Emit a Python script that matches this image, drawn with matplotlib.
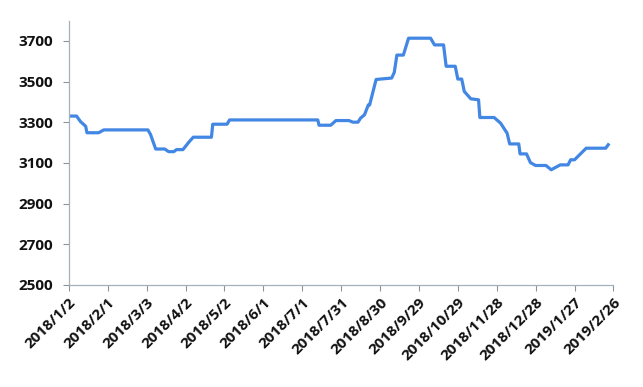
import numpy as np
import pandas as pd
import matplotlib
matplotlib.use('Agg')
import matplotlib.pyplot as plt

# Price series (turning points of the step-like line)
dates = ['2018-01-02', '2018-01-08', '2018-01-11', '2018-01-15', '2018-01-16', '2018-01-25',
         '2018-01-29', '2018-03-04', '2018-03-06', '2018-03-10', '2018-03-17', '2018-03-20',
         '2018-03-24', '2018-03-26', '2018-03-31', '2018-04-05', '2018-04-08', '2018-04-22',
         '2018-04-23', '2018-05-04', '2018-05-06', '2018-07-13', '2018-07-14', '2018-07-23',
         '2018-07-27', '2018-08-06', '2018-08-09', '2018-08-13', '2018-08-15', '2018-08-18',
         '2018-08-21', '2018-08-22', '2018-08-27', '2018-09-08', '2018-09-10', '2018-09-12',
         '2018-09-17', '2018-09-21', '2018-10-08', '2018-10-11', '2018-10-18', '2018-10-20',
         '2018-10-27', '2018-10-29', '2018-11-01', '2018-11-03', '2018-11-08', '2018-11-14',
         '2018-11-15', '2018-11-26', '2018-12-01', '2018-12-06', '2018-12-08', '2018-12-15',
         '2018-12-16', '2018-12-21', '2018-12-24', '2018-12-28', '2019-01-05', '2019-01-09',
         '2019-01-16', '2019-01-22', '2019-01-24', '2019-01-27', '2019-02-05', '2019-02-20',
         '2019-02-22']
values = [3330, 3330, 3303, 3280, 3248, 3248,
          3262, 3262, 3240, 3168, 3168, 3155,
          3155, 3165, 3165, 3205, 3226, 3226,
          3290, 3290, 3311, 3311, 3285, 3285,
          3308, 3308, 3300, 3300, 3320, 3336,
          3385, 3385, 3510, 3517, 3545, 3630,
          3630, 3713, 3713, 3680, 3680, 3575,
          3575, 3512, 3512, 3451, 3415, 3410,
          3323, 3323, 3295, 3246, 3193, 3193,
          3144, 3144, 3101, 3087, 3087, 3066,
          3090, 3090, 3115, 3115, 3172, 3172,
          3189]

tick_dates = ['2018-01-02', '2018-02-01', '2018-03-03', '2018-04-02', '2018-05-02',
              '2018-06-01', '2018-07-01', '2018-07-31', '2018-08-30', '2018-09-29',
              '2018-10-29', '2018-11-28', '2018-12-28', '2019-01-27', '2019-02-26']
tick_labels = ['2018/1/2', '2018/2/1', '2018/3/3', '2018/4/2', '2018/5/2',
               '2018/6/1', '2018/7/1', '2018/7/31', '2018/8/30', '2018/9/29',
               '2018/10/29', '2018/11/28', '2018/12/28', '2019/1/27', '2019/2/26']
y_ticks = [2500, 2700, 2900, 3100, 3300, 3500, 3700]

x = pd.to_datetime(dates)
xt = pd.to_datetime(tick_dates)

fig = plt.figure(figsize=(6.43, 3.87), dpi=100)
ax = fig.add_axes([0.107, 0.264, 0.847, 0.683])

ax.plot(x, values, color='#4287e3', linewidth=2.3, solid_joinstyle='round')

ax.set_xlim(xt[0], xt[-1])
ax.set_ylim(2500, 3800)
ax.set_yticks(y_ticks)
ax.set_xticks(xt)
ax.set_xticklabels(tick_labels, rotation=45, ha='right', rotation_mode='anchor')

for s in ['top', 'right']:
    ax.spines[s].set_visible(False)
for s in ['left', 'bottom']:
    ax.spines[s].set_color('#a6b0b8')
    ax.spines[s].set_linewidth(0.9)

ax.tick_params(axis='both', colors='#8a949c', length=4, width=0.8)
ax.tick_params(axis='y', pad=7)
for lab in ax.get_xticklabels() + ax.get_yticklabels():
    lab.set_fontfamily('Open Sans')
    lab.set_fontweight('bold')
    lab.set_fontsize(11)
    lab.set_color('#111111')

plt.savefig('out.png', dpi=100)
